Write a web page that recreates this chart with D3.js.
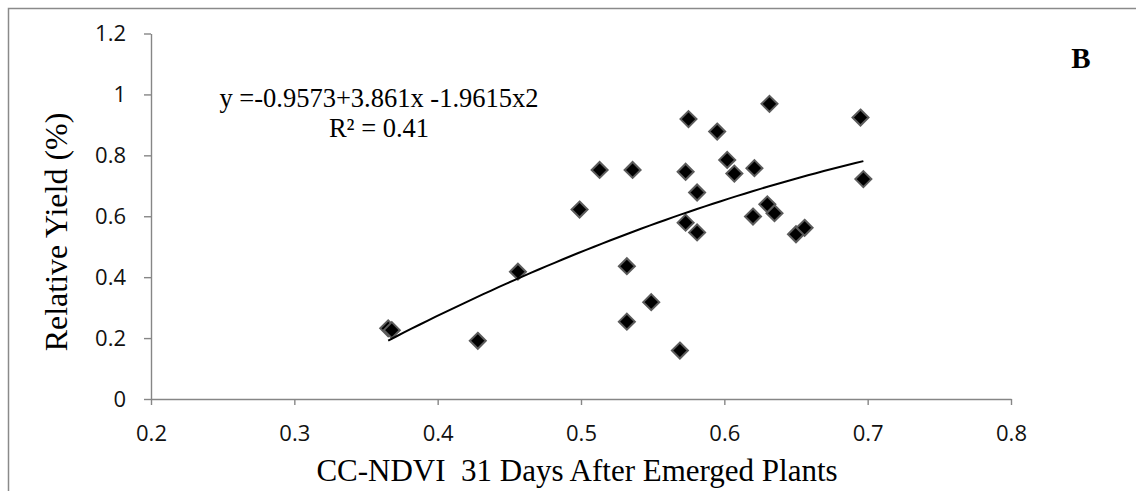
<!DOCTYPE html>
<html>
<head>
<meta charset="utf-8">
<script src="https://cdn.jsdelivr.net/npm/d3@7"></script>
<style>
  html, body { margin: 0; padding: 0; background: #fff; }
  svg { display: block; }
</style>
</head>
<body>
<svg id="chart" width="1136" height="491"></svg>
<script>
// CC-NDVI readings (31 days after emergence) and relative yield per plot
const ndvi = [0.3655, 0.368, 0.428, 0.456, 0.499, 0.513, 0.532, 0.532, 0.536, 0.549,
              0.569, 0.573, 0.573, 0.575, 0.581, 0.581, 0.595, 0.602, 0.607, 0.620,
              0.621, 0.630, 0.6315, 0.635, 0.650, 0.656, 0.695, 0.697];
const relYield = [0.232, 0.226, 0.191, 0.418, 0.622, 0.752, 0.436, 0.254, 0.752, 0.318,
                  0.159, 0.746, 0.579, 0.919, 0.678, 0.547, 0.878, 0.785, 0.740, 0.599,
                  0.758, 0.639, 0.969, 0.610, 0.541, 0.562, 0.924, 0.722];

// quadratic trendline: y = c0 + c1*x + c2*x^2
const trendCoef = [-0.9573, 3.861, -1.9615];
const trendLabel = "y =-0.9573+3.861x -1.9615x2";
const r2Label = "R\u00B2 = 0.41";
const panelLabel = "B";

const xTicks = [0.2, 0.3, 0.4, 0.5, 0.6, 0.7, 0.8];
const yTicks = [0, 0.2, 0.4, 0.6, 0.8, 1, 1.2];
const xTitle = "CC-NDVI  31 Days After Emerged Plants";
const yTitle = "Relative Yield (%)";

const svg = d3.select("#chart");
const plot = { left: 151, right: 1011, top: 33.5, bottom: 399 };

const x = d3.scaleLinear().domain([0.2, 0.8]).range([plot.left, plot.right]);
const y = d3.scaleLinear().domain([0, 1.2]).range([plot.bottom, plot.top]);

const axisGrey = "#868686";

// outer frame (top and left edges)
svg.append("path")
  .attr("d", "M8.5,491 L8.5,8.5 L1136,8.5")
  .attr("fill", "none")
  .attr("stroke", "#8a8a8a")
  .attr("stroke-width", 1.5);

// y axis
const gy = svg.append("g")
  .attr("transform", `translate(${plot.left},0)`)
  .call(d3.axisLeft(y).tickValues(yTicks).tickSize(7).tickPadding(18)
        .tickFormat(d => d3.format("")(d)).tickSizeOuter(0));

// x axis
const gx = svg.append("g")
  .attr("transform", `translate(0,${plot.bottom})`)
  .call(d3.axisBottom(x).tickValues(xTicks).tickSize(6).tickPadding(20)
        .tickFormat(d => d3.format("")(d)).tickSizeOuter(0));

[gx, gy].forEach(g => {
  g.select(".domain").attr("stroke", axisGrey).attr("stroke-width", 1.4);
  g.selectAll(".tick line").attr("stroke", axisGrey).attr("stroke-width", 1.4);
  g.selectAll(".tick text")
    .attr("fill", "#111")
    .style("font-family", "'Open Sans', 'Liberation Sans', sans-serif")
    .style("font-size", "22px");
});

// markers: diamonds
const half = 8;
const diamond = `M0,${-half} L${half},0 L0,${half} L${-half},0 Z`;
const pts = ndvi.map((v, i) => ({ x: v, y: relYield[i] }));

svg.append("g")
  .selectAll("path")
  .data(pts)
  .join("path")
  .attr("d", diamond)
  .attr("transform", d => `translate(${x(d.x)},${y(d.y)})`)
  .attr("fill", "#000")
  .attr("stroke", "#5c5c5c")
  .attr("stroke-width", 2);

// trendline across the observed NDVI range
const [xMin, xMax] = d3.extent(ndvi);
const fit = v => trendCoef[0] + trendCoef[1] * v + trendCoef[2] * v * v;
const trendPts = d3.range(0, 61).map(i => {
  const v = xMin + (xMax - xMin) * i / 60;
  return [v, fit(v)];
});
svg.append("path")
  .datum(trendPts)
  .attr("d", d3.line().x(d => x(d[0])).y(d => y(d[1])))
  .attr("fill", "none")
  .attr("stroke", "#000")
  .attr("stroke-width", 2);

// equation and R²
const serif = "'Liberation Serif', 'Times New Roman', serif";
svg.append("text")
  .attr("x", 379).attr("y", 107)
  .attr("text-anchor", "middle")
  .style("font-family", serif).style("font-size", "26.5px")
  .text(trendLabel);
svg.append("text")
  .attr("x", 379).attr("y", 137)
  .attr("text-anchor", "middle")
  .style("font-family", serif).style("font-size", "26.5px")
  .text(r2Label);

// panel letter
svg.append("text")
  .attr("x", 1081).attr("y", 68)
  .attr("text-anchor", "middle")
  .style("font-family", serif).style("font-size", "29px").style("font-weight", "bold")
  .text(panelLabel);

// axis titles
svg.append("text")
  .attr("x", 577).attr("y", 481)
  .attr("text-anchor", "middle")
  .style("font-family", serif).style("font-size", "31px")
  .style("white-space", "pre")
  .text(xTitle);
svg.append("text")
  .attr("transform", "translate(67,232) rotate(-90)")
  .attr("text-anchor", "middle")
  .style("font-family", serif).style("font-size", "32px")
  .text(yTitle);
</script>
</body>
</html>
